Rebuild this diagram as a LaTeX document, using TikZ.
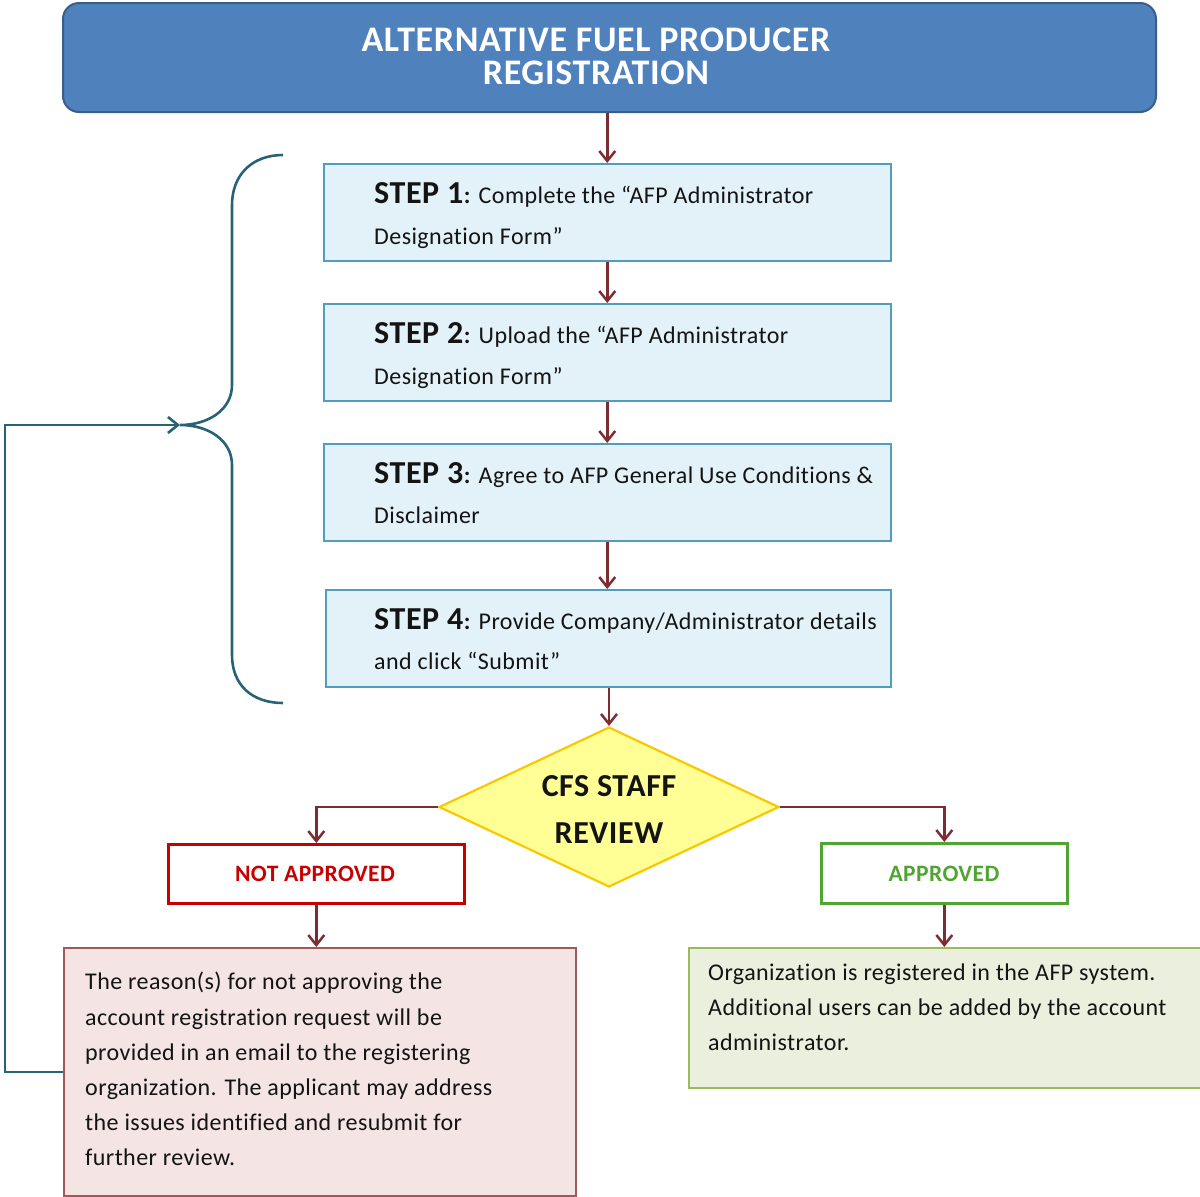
\documentclass[tikz,border=0pt]{standalone}
\usepackage{fontspec}
\setmainfont{Carlito}[LetterSpace=1.8, Ligatures=NoCommon]
\usetikzlibrary{arrows.meta,shapes.geometric}
\definecolor{titlefill}{RGB}{79,129,189}
\definecolor{titleborder}{RGB}{58,94,138}
\definecolor{stepfill}{RGB}{227,241,248}
\definecolor{stepborder}{RGB}{80,158,188}
\definecolor{arrowred}{RGB}{125,45,50}
\definecolor{diafill}{RGB}{255,255,150}
\definecolor{diaborder}{RGB}{250,200,0}
\definecolor{redc}{RGB}{200,0,0}
\definecolor{greenc}{RGB}{80,165,50}
\definecolor{reasonfill}{RGB}{244,228,228}
\definecolor{reasonborder}{RGB}{158,90,90}
\definecolor{okfill}{RGB}{234,239,222}
\definecolor{okborder}{RGB}{155,187,89}
\definecolor{tealc}{RGB}{40,98,118}
\definecolor{textc}{RGB}{20,20,20}
\newcommand\steplblfont{\bfseries\fontsize{32}{32}\selectfont}
\begin{document}
\begin{tikzpicture}[x=1pt,y=-1pt,
  stepbox/.style={draw=stepborder, fill=stepfill, line width=1.5pt, minimum width=567pt, minimum height=97pt, anchor=north west, inner sep=0pt},
  arrtip/.style={-{Straight Barb[length=10pt,width=16pt]}},
  arr/.style={draw=arrowred, line width=2.5pt, arrtip},
  txt/.style={anchor=base west, inner sep=0pt, text=textc, font=\fontsize{24}{24}\selectfont},
  fb/.style={draw=tealc, line width=2.6pt}
]
\useasboundingbox (0,0) rectangle (1200,1197);

% title
\node[draw=titleborder, fill=titlefill, line width=2pt, rounded corners=16pt, minimum width=1093pt, minimum height=109pt, anchor=north west, inner sep=0pt] (title) at (62,2) {};
\node[anchor=base, inner sep=0pt, text=white, align=center, font=\bfseries\fontsize{36}{33}\selectfont] (tt) at (596,84) {ALTERNATIVE FUEL PRODUCER\\REGISTRATION};

% steps
\node[stepbox] (s1) at (323,163) {};
\node[stepbox] (s2) at (323,303) {};
\node[stepbox] (s3) at (323,443) {};
\node[stepbox, minimum width=565pt] (s4) at (325,589) {};

\node[txt] (s1a) at (374,203) {{\steplblfont STEP 1}\textbf{:} Complete the “AFP Administrator};
\node[txt] (s1b) at (374,244) {Designation Form”};
\node[txt] (s2a) at (374,343) {{\steplblfont STEP 2}\textbf{:} Upload the “AFP Administrator};
\node[txt] (s2b) at (374,384) {Designation Form”};
\node[txt] (s3a) at (374,483) {{\steplblfont STEP 3}\textbf{:} Agree to AFP General Use Conditions \&};
\node[txt] (s3b) at (374,523) {Disclaimer};
\node[txt] (s4a) at (374,629) {{\steplblfont STEP 4}\textbf{:} Provide Company/Administrator details};
\node[txt] (s4b) at (374,669) {and click “Submit”};

% diamond
\node[diamond, draw=diaborder, fill=diafill, line width=2.2pt, minimum width=340pt, minimum height=160pt, inner sep=0pt] (dia) at (609,807) {};
\node[anchor=base, inner sep=0pt, text=textc, font=\bfseries\fontsize{32}{32}\selectfont] (d1) at (609,796) {CFS STAFF};
\node[anchor=base, inner sep=0pt, text=textc, font=\bfseries\fontsize{32}{32}\selectfont] (d2) at (609,843) {REVIEW};

% outcome boxes
\node[draw=redc, fill=white, line width=2.6pt, minimum width=296pt, minimum height=59pt, anchor=north west, inner sep=0pt] (notap) at (167,843) {};
\node[anchor=base, inner sep=0pt, text=redc, font=\bfseries\fontsize{23.5}{23.5}\selectfont] (notapt) at (315,881) {NOT APPROVED};
\node[draw=greenc, fill=white, line width=2.6pt, minimum width=246pt, minimum height=60pt, anchor=north west, inner sep=0pt] (ap) at (820,842) {};
\node[anchor=base, inner sep=0pt, text=greenc, font=\bfseries\fontsize{23.5}{23.5}\selectfont] (apt) at (944,881) {APPROVED};

% result boxes
\node[draw=reasonborder, fill=reasonfill, line width=1.8pt, minimum width=512pt, minimum height=248pt, anchor=north west, inner sep=0pt] (reason) at (63,947) {};
\node[txt] (r1) at (85,989) {The reason(s) for not approving the};
\node[txt] (r2) at (85,1025) {account registration request will be};
\node[txt] (r3) at (85,1060) {provided in an email to the registering};
\node[txt] (r4) at (85,1095) {organization. The applicant may address};
\node[txt] (r5) at (85,1130) {the issues identified and resubmit for};
\node[txt] (r6) at (85,1165) {further review.};

\node[draw=okborder, fill=okfill, line width=1.8pt, minimum width=516pt, minimum height=140pt, anchor=north west, inner sep=0pt] (ok) at (688,947) {};
\node[txt] (o1) at (708,980) {Organization is registered in the AFP system.};
\node[txt] (o2) at (708,1015) {Additional users can be added by the account};
\node[txt] (o3) at (708,1050) {administrator.};

% arrows
\draw[arr] (s1.north |- title.south) -- (s1.north);
\draw[arr] (s1.south) -- (s2.north);
\draw[arr] (s2.south) -- (s3.north);
\draw[arr] (s3.south) -- (s3.south |- s4.north);
\draw[arr] (s4.south -| dia.north) -- (dia.north);
\draw[arr] (dia.west) -| (notap.north);
\draw[arr] (dia.east) -| (ap.north);
\draw[arr] (notap.south) -- (notap.south |- reason.north);
\draw[arr] (ap.south) -- (ap.south |- ok.north);

% brace
\coordinate (tip) at (180,425);
\draw[fb] (283,155) .. controls (252,155) and (232,175) .. (232,205) -- (232,385) .. controls (232,410) and (208,425) .. (tip)
  .. controls (208,425) and (232,440) .. (232,465) -- (232,655) .. controls (232,685) and (252,703) .. (283,703);

% feedback
\draw[fb, arrtip] (reason.west) -- ++(-58,0) |- (tip);
\end{tikzpicture}
\end{document}
